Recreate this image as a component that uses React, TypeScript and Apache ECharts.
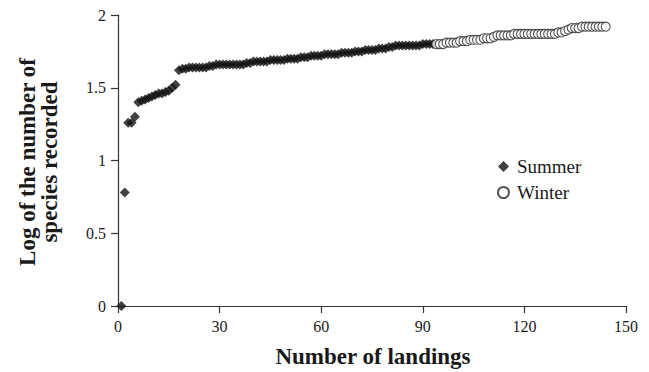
import React, { useEffect, useRef } from "react";
import * as echarts from "echarts";

// Summer landings 1..93
const summerValues: number[] = [
  0, 0.78, 1.26, 1.26, 1.3, 1.4, 1.41, 1.42, 1.43, 1.44,
  1.45, 1.46, 1.46, 1.47, 1.48, 1.5, 1.52, 1.62, 1.63, 1.63,
  1.64, 1.64, 1.64, 1.64, 1.64, 1.64, 1.65, 1.65, 1.66, 1.66,
  1.66, 1.66, 1.66, 1.66, 1.66, 1.66, 1.66, 1.67, 1.67, 1.68,
  1.68, 1.68, 1.68, 1.68, 1.69, 1.69, 1.69, 1.69, 1.69, 1.7,
  1.7, 1.7, 1.7, 1.71, 1.71, 1.71, 1.72, 1.72, 1.72, 1.72,
  1.73, 1.73, 1.73, 1.73, 1.73, 1.74, 1.74, 1.74, 1.74, 1.75,
  1.75, 1.75, 1.76, 1.76, 1.76, 1.76, 1.77, 1.77, 1.77, 1.78,
  1.78, 1.79, 1.79, 1.79, 1.79, 1.79, 1.79, 1.79, 1.79, 1.8,
  1.8, 1.8, 1.8,
];
// Winter landings 94..144
const winterValues: number[] = [
  1.8, 1.8, 1.8, 1.81, 1.81, 1.81, 1.81, 1.82, 1.82, 1.82,
  1.83, 1.83, 1.83, 1.83, 1.84, 1.84, 1.84, 1.85, 1.86, 1.86,
  1.86, 1.86, 1.86, 1.87, 1.87, 1.87, 1.87, 1.87, 1.87, 1.87,
  1.87, 1.87, 1.87, 1.87, 1.87, 1.87, 1.88, 1.88, 1.89, 1.9,
  1.91, 1.91, 1.91, 1.92, 1.92, 1.92, 1.92, 1.92, 1.92, 1.92,
  1.92,
];
const summerStart = 1;
const winterStart = 94;
const seriesNames = ["Summer", "Winter"];
const xTitle = "Number of landings";
const yTitle = "Log of the number of\nspecies recorded";

const FONT = "'Liberation Serif', 'Times New Roman', serif";

export default function App() {
  const ref = useRef<HTMLDivElement>(null);
  useEffect(() => {
    if (!ref.current) return;
    const chart = echarts.init(ref.current, null, { renderer: "svg" });
    const summer = summerValues.map((v, i) => [summerStart + i, v]);
    const winter = winterValues.map((v, i) => [winterStart + i, v]);
    chart.setOption({
      animation: false,
      backgroundColor: "#ffffff",
      textStyle: { fontFamily: FONT },
      grid: { left: 118, right: 23, top: 15, bottom: 66 },
      xAxis: {
        type: "value",
        min: 0,
        max: 150,
        interval: 30,
        splitLine: { show: false },
        axisLine: { show: true, onZero: false, lineStyle: { color: "#333", width: 1.2 } },
        axisTick: { show: true, length: 7, lineStyle: { color: "#333", width: 1.2 } },
        axisLabel: { color: "#1a1a1a", fontSize: 16, fontFamily: FONT, margin: 12 },
      },
      yAxis: {
        type: "value",
        min: 0,
        max: 2,
        interval: 0.5,
        splitLine: { show: false },
        axisLine: { show: true, lineStyle: { color: "#333", width: 1.2 } },
        axisTick: { show: true, length: 7, lineStyle: { color: "#333", width: 1.2 } },
        axisLabel: { color: "#1a1a1a", fontSize: 16, fontFamily: FONT, margin: 12 },
      },
      legend: {
        orient: "vertical",
        left: 492,
        top: 152,
        itemWidth: 11,
        itemHeight: 11,
        itemGap: 7,
        data: seriesNames,
        textStyle: { color: "#1a1a1a", fontSize: 19, fontFamily: FONT, padding: [0, 0, 0, 3] },
      },
      series: [
        {
          name: seriesNames[0],
          type: "scatter",
          symbol: "diamond",
          symbolSize: 10,
          itemStyle: { color: "#111111" },
          data: summer,
        },
        {
          name: seriesNames[1],
          type: "scatter",
          symbol: "circle",
          symbolSize: 9,
          itemStyle: { color: "#ffffff", borderColor: "#2a2a2a", borderWidth: 1.1 },
          data: winter,
        },
      ],
      graphic: [
        {
          type: "text",
          x: 38,
          y: 162,
          rotation: Math.PI / 2,
          style: {
            text: yTitle,
            font: `bold 23px ${FONT}`,
            fill: "#1a1a1a",
            textAlign: "center",
            textVerticalAlign: "middle",
            lineHeight: 22,
          },
        },
        {
          type: "text",
          x: 373,
          y: 356,
          style: {
            text: xTitle,
            font: `bold 23px ${FONT}`,
            fill: "#1a1a1a",
            textAlign: "center",
            textVerticalAlign: "middle",
          },
        },
      ],
    });
    return () => chart.dispose();
  }, []);
  return (
    <div
      ref={ref}
      style={{ position: "absolute", left: 0, top: 0, width: 649, height: 372 }}
    />
  );
}
